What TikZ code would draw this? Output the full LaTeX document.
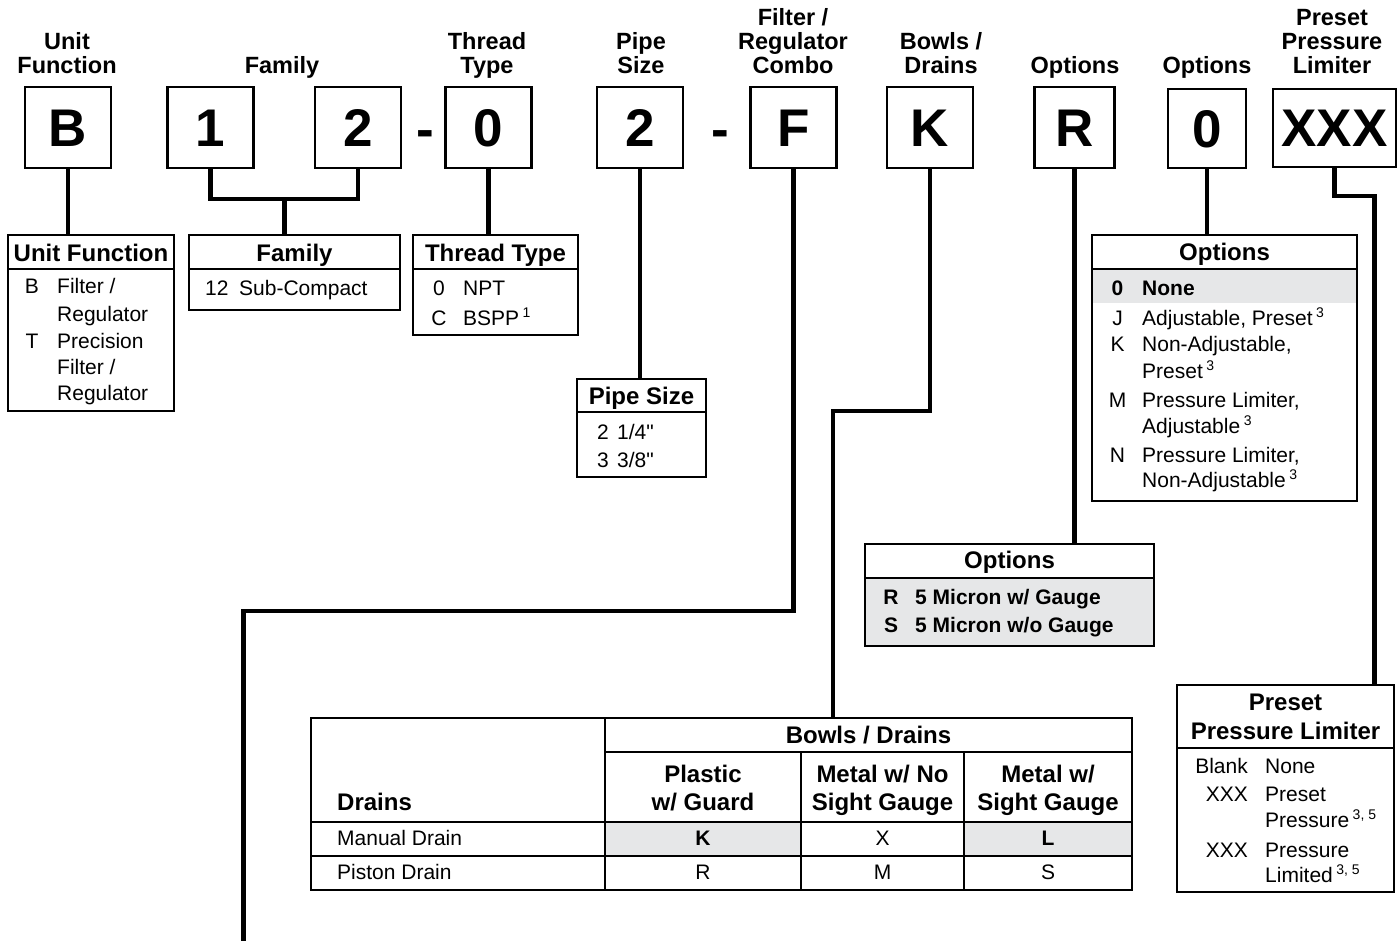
\documentclass[tikz,border=0pt]{standalone}
\usepackage{fontspec}
\setmainfont{Liberation Sans}
\newfontfamily\plainfont{Liberation Sans}
\definecolor{lg}{HTML}{E6E7E8}
\newcommand\fnote[1]{\raisebox{8pt}{\fontsize{14}{14}\selectfont #1}}
\newcommand\inch{{\plainfont\char34\relax}}
\tikzset{
  bigbox/.style={draw, line width=2.8pt, minimum width=86pt, minimum height=81pt, inner sep=0pt,
    text height=38pt, text depth=0pt, font=\bfseries\fontsize{53}{53}\selectfont},
  toplab/.style={font=\bfseries\fontsize{23.5}{24}\selectfont, anchor=base, inner sep=0pt},
  hd/.style={font=\bfseries\fontsize{24}{24}\selectfont, anchor=base, inner sep=0pt},
  bt/.style={font=\fontsize{21}{21}\selectfont, anchor=base west, inner sep=0pt},
  bc/.style={font=\fontsize{21}{21}\selectfont, anchor=base, inner sep=0pt},
  bte/.style={font=\fontsize{21}{21}\selectfont, anchor=base east, inner sep=0pt},
  btb/.style={font=\bfseries\fontsize{21}{21}\selectfont, anchor=base west, inner sep=0pt},
  bcb/.style={font=\bfseries\fontsize{21}{21}\selectfont, anchor=base, inner sep=0pt},
  frame/.style={draw, line width=2.6pt, inner sep=0pt},
  divl/.style={line width=2pt},
  thin/.style={line width=1.6pt},
  conn/.style={line width=4.5pt},
  dashmark/.style={font=\bfseries\fontsize{53}{53}\selectfont, anchor=base, inner sep=0pt}
}
\begin{document}
\begin{tikzpicture}[x=1pt,y=-1pt]
\useasboundingbox (0,0) rectangle (1400,941);

% ---------- top labels ----------
\node[toplab] (l1a) at (67,50) {Unit};
\node[toplab] (l1b) at (67,74) {Function};
\node[toplab] (l2) at (282,74) {Family};
\node[toplab] (l3a) at (487,50) {Thread};
\node[toplab] (l3b) at (487,74) {Type};
\node[toplab] (l4a) at (641,50) {Pipe};
\node[toplab] (l4b) at (641,74) {Size};
\node[toplab] (l5a) at (793,26) {Filter /};
\node[toplab] (l5b) at (793,50) {Regulator};
\node[toplab] (l5c) at (793,74) {Combo};
\node[toplab] (l6a) at (941,50) {Bowls /};
\node[toplab] (l6b) at (941,74) {Drains};
\node[toplab] (l7) at (1075,74) {Options};
\node[toplab] (l8) at (1207,74) {Options};
\node[toplab] (l9a) at (1332,26) {Preset};
\node[toplab] (l9b) at (1332,50) {Pressure};
\node[toplab] (l9c) at (1332,74) {Limiter};

% ---------- code boxes ----------
\node[bigbox] (bB) at (68,127.5) {B};
\node[bigbox] (b1) at (210.5,127.5) {1};
\node[bigbox] (b2) at (358,127.5) {2};
\node[dashmark] (d1) at (425.5,148) {-};
\node[bigbox] (b0) at (488.5,127.5) {0};
\node[bigbox] (bP) at (640,127.5) {2};
\node[dashmark] (d2) at (720.5,148) {-};
\node[bigbox] (bF) at (793.5,127.5) {F};
\node[bigbox] (bK) at (930,127.5) {K};
\node[bigbox, minimum width=80pt] (bR) at (1074.5,127.5) {R};
\node[bigbox, minimum width=78pt, minimum height=79pt] (bO) at (1207,128.5) {0};
\node[bigbox, minimum width=123pt, minimum height=78pt] (bX) at (1334.5,128) {XXX};

% ---------- gray fills ----------
\fill[lg] (1092,270) rectangle (1357,303);
\fill[lg] (865,578) rectangle (1154,646);
\fill[lg] (605,822) rectangle (801,856);
\fill[lg] (964,822) rectangle (1132,856);

% ---------- description boxes ----------
\node[frame, minimum width=166pt, minimum height=176pt] (uf) at (91,323) {};
\node[frame, minimum width=211pt, minimum height=75pt] (fam) at (294.5,272.5) {};
\node[frame, minimum width=165pt, minimum height=100pt] (tt) at (495.5,285) {};
\node[frame, minimum width=129pt, minimum height=98pt] (ps) at (641.5,428) {};
\node[frame, minimum width=265pt, minimum height=266pt] (opt) at (1224.5,368) {};
\node[frame, minimum width=289pt, minimum height=102pt] (optr) at (1009.5,595) {};
\node[frame, minimum width=821pt, minimum height=172pt] (tbl) at (721.5,804) {};
\node[frame, minimum width=217pt, minimum height=207pt] (pp) at (1285.5,788.5) {};

% dividers
\draw[divl] (8,269) -- (174,269);
\draw[divl] (189,269) -- (400,269);
\draw[divl] (413,269) -- (578,269);
\draw[divl] (577,412) -- (706,412);
\draw[divl] (1092,269) -- (1357,269);
\draw[divl] (865,578) -- (1154,578);
\draw[divl] (1177,748) -- (1394,748);
% table grid
\draw[thin] (605,718) -- (605,890);
\draw[thin] (801,752) -- (801,890);
\draw[thin] (964,752) -- (964,890);
\draw[thin] (605,752) -- (1132,752);
\draw[thin] (311,822) -- (1132,822);
\draw[thin] (311,856) -- (1132,856);

% ---------- connectors ----------
\coordinate (famy) at (284.25,199);
\coordinate (fbend) at (243.5,611);
\coordinate (fend) at (243.5,941);
\coordinate (kbend) at (833,411);
\coordinate (xbend) at (1374.5,196);
\draw[conn] (bB.south) -- (uf.north -| bB.south);
\draw[conn] (b1.south) |- (famy) -| (b2.south);
\draw[conn] (famy) -- (famy |- fam.north);
\draw[conn] (b0.south) -- (b0.south |- tt.north);
\draw[conn] (bP.south) -- (bP.south |- ps.north);
\draw[conn] (bF.south) |- (fbend) -- (fend);
\draw[conn] (bK.south) |- (kbend) -- (kbend |- tbl.north);
\draw[conn] (bR.south) -- (bR.south |- optr.north);
\draw[conn] (bO.south) -- (bO.south |- opt.north);
\draw[conn] (bX.south) |- (xbend) -- (xbend |- pp.north);

% ---------- Unit Function ----------
\node[hd] (ufh) at (91,262) {Unit Function};
\node[bc] (uf1) at (32,294) {B};
\node[bt] (uf2) at (57,294) {Filter /};
\node[bt] (uf3) at (57,321) {Regulator};
\node[bc] (uf4) at (32,348) {T};
\node[bt] (uf5) at (57,348) {Precision};
\node[bt] (uf6) at (57,374) {Filter /};
\node[bt] (uf7) at (57,400) {Regulator};

% ---------- Family ----------
\node[hd] (famh) at (294.5,262) {Family};
\node[bt] (fam1) at (205,296) {12};
\node[bt] (fam2) at (239,296) {Sub-Compact};

% ---------- Thread Type ----------
\node[hd] (tth) at (495.5,262) {Thread Type};
\node[bc] (tt1) at (439,296) {0};
\node[bt] (tt2) at (463,296) {NPT};
\node[bc] (tt3) at (439,325) {C};
\node[bt] (tt4) at (463,325) {BSPP\,\fnote{1}};

% ---------- Pipe Size ----------
\node[hd] (psh) at (641.5,404) {Pipe Size};
\node[bc] (ps1) at (603,439) {2};
\node[bt] (ps2) at (617,439) {1/4\inch};
\node[bc] (ps3) at (603,467) {3};
\node[bt] (ps4) at (617,467) {3/8\inch};

% ---------- Options (0) ----------
\node[hd] (opth) at (1224.5,261) {Options};
\node[bcb] (o1) at (1117.5,295) {0};
\node[btb] (o2) at (1142,295) {None};
\node[bc] (o3) at (1117.5,325) {J};
\node[bt] (o4) at (1142,325) {Adjustable, Preset\,\fnote{3}};
\node[bc] (o5) at (1117.5,352) {K};
\node[bt] (o6) at (1142,352) {Non-Adjustable,};
\node[bt] (o7) at (1142,378) {Preset\,\fnote{3}};
\node[bc] (o8) at (1117.5,407) {M};
\node[bt] (o9) at (1142,407) {Pressure Limiter,};
\node[bt] (o10) at (1142,433) {Adjustable\,\fnote{3}};
\node[bc] (o11) at (1117.5,462) {N};
\node[bt] (o12) at (1142,462) {Pressure Limiter,};
\node[bt] (o13) at (1142,487) {Non-Adjustable\,\fnote{3}};

% ---------- Options (R) ----------
\node[hd] (orh) at (1009.5,568) {Options};
\node[bcb] (or1) at (891,604) {R};
\node[btb] (or2) at (915,604) {5 Micron w/ Gauge};
\node[bcb] (or3) at (891,632) {S};
\node[btb] (or4) at (915,632) {5 Micron w/o Gauge};

% ---------- Table ----------
\node[hd] (th0) at (868.5,743) {Bowls / Drains};
\node[hd] (th1a) at (703,782) {Plastic};
\node[hd] (th1b) at (703,810) {w/ Guard};
\node[hd] (th2a) at (882.5,782) {Metal w/ No};
\node[hd] (th2b) at (882.5,810) {Sight Gauge};
\node[hd] (th3a) at (1048,782) {Metal w/};
\node[hd] (th3b) at (1048,810) {Sight Gauge};
\node[hd, anchor=base west] (thd) at (337,810) {Drains};
\node[bt] (r1) at (337,845) {Manual Drain};
\node[bcb] (r1a) at (703,845) {K};
\node[bc] (r1b) at (882.5,845) {X};
\node[bcb] (r1c) at (1048,845) {L};
\node[bt] (r2) at (337,879) {Piston Drain};
\node[bc] (r2a) at (703,879) {R};
\node[bc] (r2b) at (882.5,879) {M};
\node[bc] (r2c) at (1048,879) {S};

% ---------- Preset Pressure Limiter ----------
\node[hd] (pph1) at (1285.5,710) {Preset};
\node[hd] (pph2) at (1285.5,739) {Pressure Limiter};
\node[bte] (p1) at (1248,773) {Blank};
\node[bt] (p2) at (1265,773) {None};
\node[bte] (p3) at (1248,801) {XXX};
\node[bt] (p4) at (1265,801) {Preset};
\node[bt] (p5) at (1265,827) {Pressure\,\fnote{3, 5}};
\node[bte] (p6) at (1248,857) {XXX};
\node[bt] (p7) at (1265,857) {Pressure};
\node[bt] (p8) at (1265,882) {Limited\,\fnote{3, 5}};
\end{tikzpicture}
\end{document}
